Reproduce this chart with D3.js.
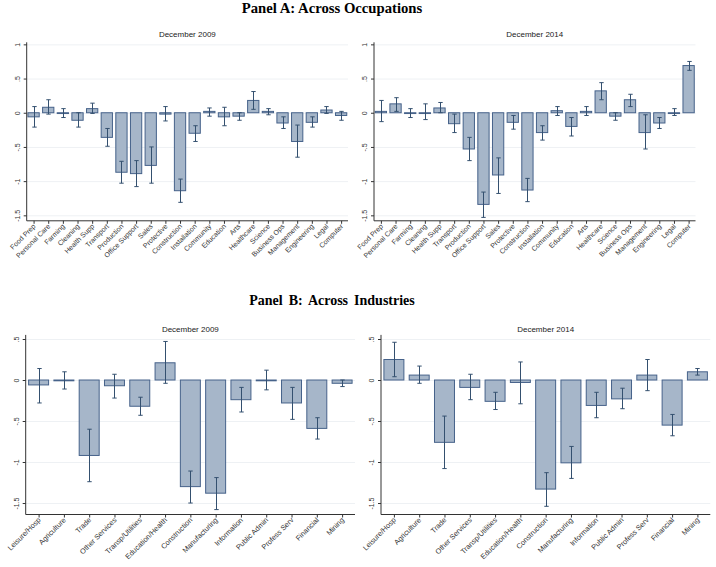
<!DOCTYPE html>
<html>
<head>
<meta charset="utf-8">
<script src="https://cdn.jsdelivr.net/npm/d3@7"></script>
<style>
  body { margin: 0; background: #fff; }
  svg { display: block; }
</style>
</head>
<body>
<svg id="chart" width="716" height="567"></svg>
<script>
// ---------------- DATA ----------------
const occupations = ["Food Prep","Personal Care","Farming","Cleaning","Health Supp","Transport","Production","Office Support","Sales","Protective","Construction","Installation","Community","Education","Arts","Healthcare","Science","Business Ops","Management","Engineering","Legal","Computer"];
const occ2009 = [-0.06, 0.08, 0.0, -0.11, 0.06, -0.36, -0.87, -0.89, -0.77, -0.02, -1.14, -0.30, 0.02, -0.06, -0.05, 0.18, 0.02, -0.15, -0.42, -0.14, 0.04, -0.04];
const occ2009Lo = [-0.21, -0.02, -0.07, -0.21, -0.01, -0.49, -1.03, -1.08, -1.03, -0.12, -1.31, -0.42, -0.05, -0.19, -0.11, 0.05, -0.03, -0.23, -0.65, -0.21, -0.01, -0.11];
const occ2009Hi = [0.09, 0.19, 0.06, 0.0, 0.14, -0.23, -0.71, -0.70, -0.50, 0.09, -0.97, -0.19, 0.07, 0.08, 0.0, 0.31, 0.06, -0.06, -0.18, -0.06, 0.09, 0.02];
const occ2014 = [0.02, 0.13, 0.0, 0.0, 0.07, -0.16, -0.53, -1.34, -0.91, -0.14, -1.13, -0.29, 0.03, -0.20, 0.02, 0.32, -0.05, 0.19, -0.29, -0.15, 0.0, 0.69];
const occ2014Lo = [-0.13, 0.02, -0.07, -0.10, 0.0, -0.29, -0.70, -1.53, -1.18, -0.24, -1.30, -0.40, -0.04, -0.34, -0.04, 0.19, -0.11, 0.09, -0.53, -0.23, -0.04, 0.62];
const occ2014Hi = [0.18, 0.22, 0.06, 0.13, 0.15, -0.02, -0.36, -1.16, -0.66, -0.04, -0.96, -0.19, 0.09, -0.07, 0.09, 0.44, 0.0, 0.27, -0.03, -0.07, 0.06, 0.75];

const industries = ["Leisure/Hosp","Agriculture","Trade","Other Services","Transp/Utilities","Education/Health","Construction","Manufacturing","Information","Public Admin","Profess Serv","Financial","Mining"];
const ind2009 = [-0.06, 0.0, -0.92, -0.07, -0.32, 0.21, -1.30, -1.38, -0.24, 0.0, -0.28, -0.59, -0.04];
const ind2009Lo = [-0.28, -0.11, -1.24, -0.22, -0.43, -0.04, -1.50, -1.58, -0.39, -0.12, -0.48, -0.72, -0.08];
const ind2009Hi = [0.14, 0.10, -0.60, 0.07, -0.21, 0.47, -1.11, -1.19, -0.09, 0.12, -0.09, -0.46, 0.0];
const ind2014 = [0.25, 0.06, -0.76, -0.09, -0.26, -0.03, -1.33, -1.01, -0.31, -0.23, 0.06, -0.55, 0.10];
const ind2014Lo = [0.04, -0.04, -1.08, -0.24, -0.36, -0.29, -1.54, -1.20, -0.46, -0.35, -0.13, -0.68, 0.06];
const ind2014Hi = [0.46, 0.17, -0.44, 0.07, -0.15, 0.22, -1.13, -0.81, -0.15, -0.10, 0.25, -0.42, 0.14];

const ticksA = [1, 0.5, 0, -0.5, -1, -1.5];
const ticksB = [0.5, 0, -0.5, -1, -1.5];
const tickLabel = v => v === 0 ? "0" : (v < 0 ? "-" : "") + String(Math.abs(v)).replace(/^0\./, ".");

// ---------------- STYLE ----------------
const FILL = "#a6b6c9";
const STROKE = "#46628a";
const ERR = "#34506f";
const AXIS = "#333";
const GRID = "#eef1f4";

const svg = d3.select("#chart");

function panel(cfg) {
  const g = svg.append("g");
  const x = d3.scalePoint().domain(cfg.cats).range([cfg.x0, cfg.x1]).padding(cfg.pad);
  const y = d3.scaleLinear().domain(cfg.ydom).range([cfg.yb, cfg.yt]);
  const bw = x.step() * cfg.bwFrac;

  // gridlines
  g.selectAll("line.grid").data(cfg.ticks).join("line")
    .attr("x1", cfg.x0).attr("x2", cfg.x1)
    .attr("y1", d => y(d) + 0.5).attr("y2", d => y(d) + 0.5)
    .attr("stroke", GRID).attr("stroke-width", 1);

  // bars
  g.selectAll("rect.bar").data(cfg.vals).join("rect")
    .attr("x", (d, i) => x(cfg.cats[i]) - bw / 2)
    .attr("y", d => y(Math.max(0, d)))
    .attr("width", bw)
    .attr("height", d => Math.max(0.8, Math.abs(y(d) - y(0))))
    .attr("fill", FILL).attr("stroke", STROKE).attr("stroke-width", 1);

  // error bars
  const cap = 2.2;
  const eg = g.append("g").attr("stroke", ERR).attr("stroke-width", 1).attr("fill", "none");
  cfg.cats.forEach((c, i) => {
    const cx = Math.round(x(c)) + 0.5;
    eg.append("line").attr("x1", cx).attr("x2", cx).attr("y1", y(cfg.lo[i])).attr("y2", y(cfg.hi[i]));
    eg.append("line").attr("x1", cx - cap).attr("x2", cx + cap).attr("y1", y(cfg.lo[i])).attr("y2", y(cfg.lo[i]));
    eg.append("line").attr("x1", cx - cap).attr("x2", cx + cap).attr("y1", y(cfg.hi[i])).attr("y2", y(cfg.hi[i]));
  });

  // y axis
  const ya = g.append("g").attr("transform", `translate(${cfg.x0},0)`)
    .call(d3.axisLeft(y).tickValues(cfg.ticks).tickSize(3).tickFormat(tickLabel));
  ya.select(".domain").attr("d", `M0,${cfg.yt}V${cfg.yb}`).attr("stroke", AXIS);
  ya.selectAll(".tick line").attr("stroke", AXIS);
  ya.selectAll(".tick text")
    .attr("x", null).attr("dy", null)
    .attr("transform", "translate(-7,0) rotate(-90)")
    .attr("text-anchor", "middle")
    .attr("font-family", "Liberation Sans, Arial, sans-serif")
    .attr("font-size", 7).attr("fill", "#333");

  // x axis
  const xa = g.append("g").attr("transform", `translate(0,${cfg.yb})`)
    .call(d3.axisBottom(x).tickSize(3));
  xa.select(".domain").attr("d", `M${cfg.x0},0H${cfg.x1}`).attr("stroke", AXIS);
  xa.selectAll(".tick line").attr("stroke", AXIS);
  xa.selectAll(".tick text")
    .attr("y", null).attr("dy", null)
    .attr("transform", "translate(2,6) rotate(-45)")
    .attr("text-anchor", "end")
    .attr("font-family", "Liberation Sans, Arial, sans-serif")
    .attr("font-size", cfg.lblSize).attr("fill", "#333");

  // subtitle
  g.append("text").attr("x", (cfg.x0 + cfg.x1) / 2).attr("y", cfg.subY)
    .attr("text-anchor", "middle")
    .attr("font-family", "Liberation Sans, Arial, sans-serif")
    .attr("font-size", 8).attr("fill", "#222").text(cfg.sub);
}

// Titles
svg.append("text").attr("x", 332).attr("y", 13).attr("text-anchor", "middle")
  .attr("font-family", "Liberation Serif, Times New Roman, serif").attr("font-weight", "bold")
  .attr("font-size", 14.7).attr("fill", "#000").text("Panel A: Across Occupations");
svg.append("text").attr("x", 332).attr("y", 305).attr("text-anchor", "middle")
  .attr("font-family", "Liberation Serif, Times New Roman, serif").attr("font-weight", "bold")
  .attr("font-size", 14).attr("word-spacing", 2.5).attr("fill", "#000").text("Panel B: Across Industries");

const A = { cats: occupations, pad: 0.47, bwFrac: 0.77, ydom: [-1.58, 1.03], yb: 220.8, yt: 42.3, ticks: ticksA, lblSize: 7, subY: 37 };
panel({ ...A, x0: 26.7, x1: 348, vals: occ2009, lo: occ2009Lo, hi: occ2009Hi, sub: "December 2009" });
panel({ ...A, x0: 374, x1: 695.5, vals: occ2014, lo: occ2014Lo, hi: occ2014Hi, sub: "December 2014" });

const B = { cats: industries, pad: 0.51, bwFrac: 0.79, ydom: [-1.64, 0.55], yb: 514.5, yt: 334.9, ticks: ticksB, lblSize: 7.3, subY: 332 };
panel({ ...B, x0: 25.7, x1: 355, vals: ind2009, lo: ind2009Lo, hi: ind2009Hi, sub: "December 2009" });
panel({ ...B, x0: 381, x1: 710.3, vals: ind2014, lo: ind2014Lo, hi: ind2014Hi, sub: "December 2014" });
</script>
</body>
</html>
